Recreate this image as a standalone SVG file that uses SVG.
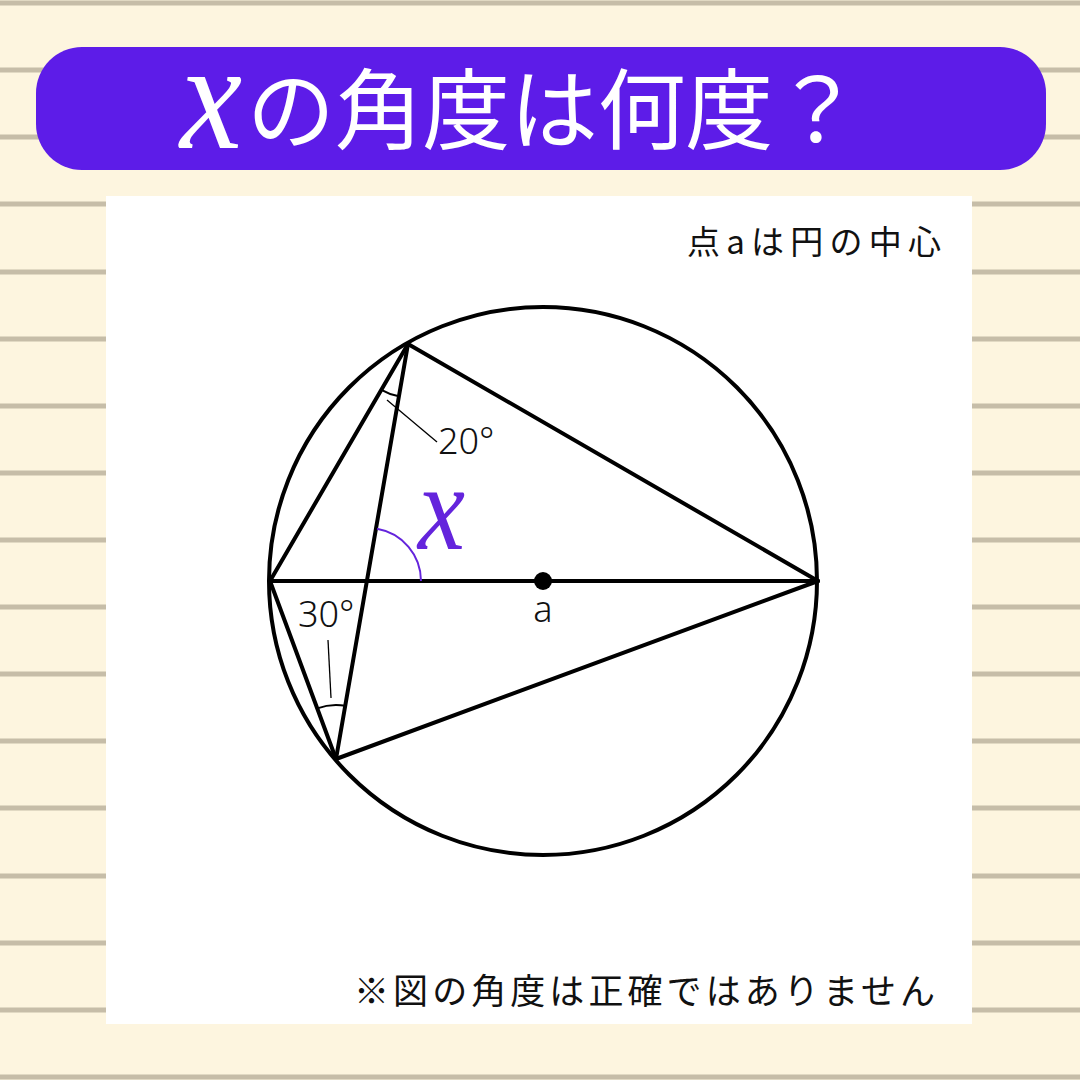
<svg xmlns="http://www.w3.org/2000/svg" width="1080" height="1080" viewBox="0 0 1080 1080">
<style>
.rule{stroke:#c6bda8;stroke-width:5}
.ln{stroke:#000;stroke-width:4;fill:none;stroke-linecap:round;stroke-linejoin:round}
.ang{stroke:#000;stroke-width:2;fill:none}
.lead{stroke:#000;stroke-width:1.3;fill:none}
.jp{font-family:"Noto Sans CJK JP","Noto Sans",sans-serif;fill:#111}
.num{font-family:"Noto Sans","Noto Sans CJK JP",sans-serif;font-size:36px;font-weight:300;fill:#111}
.vx{font-family:"Liberation Serif",serif;font-style:italic}
</style>
<rect width="1080" height="1080" fill="#fdf5df"/>
<g id="rules">
<line class="rule" x1="0" y1="3" x2="1080" y2="3"/>
<line class="rule" x1="0" y1="70" x2="1080" y2="70"/>
<line class="rule" x1="0" y1="137" x2="1080" y2="137"/>
<line class="rule" x1="0" y1="204" x2="1080" y2="204"/>
<line class="rule" x1="0" y1="272" x2="1080" y2="272"/>
<line class="rule" x1="0" y1="339" x2="1080" y2="339"/>
<line class="rule" x1="0" y1="406" x2="1080" y2="406"/>
<line class="rule" x1="0" y1="473" x2="1080" y2="473"/>
<line class="rule" x1="0" y1="540" x2="1080" y2="540"/>
<line class="rule" x1="0" y1="607" x2="1080" y2="607"/>
<line class="rule" x1="0" y1="674" x2="1080" y2="674"/>
<line class="rule" x1="0" y1="741" x2="1080" y2="741"/>
<line class="rule" x1="0" y1="808" x2="1080" y2="808"/>
<line class="rule" x1="0" y1="876" x2="1080" y2="876"/>
<line class="rule" x1="0" y1="943" x2="1080" y2="943"/>
<line class="rule" x1="0" y1="1010" x2="1080" y2="1010"/>
<line class="rule" x1="0" y1="1077" x2="1080" y2="1077"/>
</g>
<g id="title">
<rect x="36" y="47" width="1010" height="123" rx="46" fill="#5d1ce8"/>
<text class="vx" transform="translate(180,148) scale(1,1.1)" font-size="140" fill="#fff">x</text>
<text x="247" y="142" font-size="88" class="jp" style="fill:#fff" textLength="614" lengthAdjust="spacing">の角度は何度？</text>
</g>
<rect id="panel" x="106" y="196" width="866" height="828" fill="#fff"/>
<text id="note-top" class="jp" x="687" y="254" font-size="33" textLength="254" lengthAdjust="spacing">点aは円の中心</text>
<g id="figure">
<circle class="ln" cx="543" cy="581" r="274"/>
<g id="connectors">
<line class="ln" x1="270" y1="581" x2="818" y2="581"/>
<line class="ln" x1="270" y1="581" x2="408" y2="344"/>
<line class="ln" x1="408" y1="344" x2="818" y2="581"/>
<line class="ln" x1="408" y1="344" x2="336" y2="759"/>
<line class="ln" x1="270" y1="581" x2="336" y2="759"/>
<line class="ln" x1="336" y1="759" x2="818" y2="581"/>
</g>
<circle id="center" cx="543" cy="581" r="9" fill="#000"/>
<text class="num" x="543" y="622" text-anchor="middle" font-size="32">a</text>
<g id="angle20">
<path class="ang" d="M381.4,389.8 A53,53 0 0 0 398.8,396.2"/>
<line class="lead" x1="387" y1="400" x2="437" y2="442"/>
<text class="num" x="438" y="454">20°</text>
</g>
<g id="angle30">
<path class="ang" d="M317.2,708.4 A54,54 0 0 1 345.4,705.8"/>
<line class="lead" x1="328" y1="640" x2="331" y2="698"/>
<text class="num" x="298" y="627">30°</text>
</g>
<g id="angleX">
<path d="M377,528.8 A53,53 0 0 1 421,581" fill="none" stroke="#6424dc" stroke-width="2"/>
<text class="vx" transform="translate(418,549) scale(1,1.15)" font-size="106" fill="#6424dc">x</text>
</g>
</g>
<text id="note-bottom" class="jp" x="354" y="1004" font-size="35" textLength="581" lengthAdjust="spacing">※図の角度は正確ではありません</text>
</svg>
